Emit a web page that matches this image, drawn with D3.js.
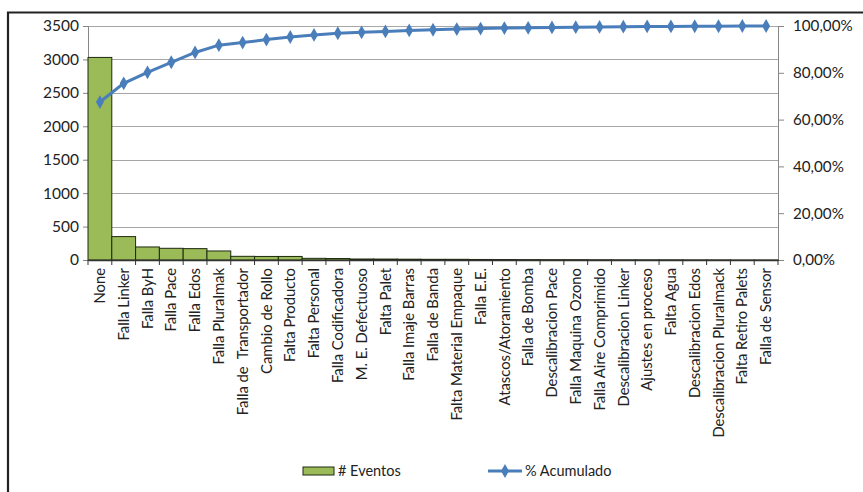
<!DOCTYPE html>
<html><head><meta charset="utf-8">
<script src="https://cdn.jsdelivr.net/npm/d3@7"></script>
<style>body{margin:0;background:#fff}svg{display:block}text{font-family:Lato,"Open Sans",sans-serif}</style>
</head><body>
<svg id="c" width="863" height="492"></svg>
<script>
const categories = ["None","Falla Linker","Falla ByH","Falla Pace","Falla Edos","Falla Pluralmak","Falla de  Transportador","Cambio de Rollo","Falta Producto","Falta Personal","Falla Codificadora","M. E. Defectuoso","Falta Palet","Falla Imaje Barras","Falla de Banda","Falta Material Empaque","Falla E.E.","Atascos/Atoramiento","Falla de Bomba","Descalibracion Pace","Falla Maquina Ozono","Falla Aire Comprimido","Descalibracion Linker","Ajustes en proceso","Falta Agua","Descalibracion Edos","Descalibracion Pluralmack","Falta Retiro Palets","Falla de Sensor"];
const eventos = [3030,350,195,175,170,135,55,53,53,25,22,15,14,12,10,10,8,7,6,5,5,4,3,3,3,2,2,1,1];
const acumulado = [0.675,0.755,0.802,0.845,0.887,0.918,0.929,0.942,0.953,0.962,0.969,0.973,0.977,0.981,0.984,0.987,0.989,0.991,0.992,0.994,0.995,0.996,0.997,0.998,0.998,0.999,0.999,1.0,1.0];
const leftTicks = [0,500,1000,1500,2000,2500,3000,3500];
const rightTicks = [0,0.2,0.4,0.6,0.8,1.0];
const seriesNames = ["# Eventos","% Acumulado"];

const svg = d3.select("#c");
const L = 88, R = 778, T = 26, B = 260;
const x = d3.scaleBand().domain(categories).range([L, R]).padding(0);
const y = d3.scaleLinear().domain([0,3500]).range([B, T]);
const y2 = d3.scaleLinear().domain([0,1]).range([B, T]);
const fmtPct = v => d3.format(".2f")(v*100).replace(".", ",") + "%";

// frame
svg.append("path").attr("d","M8,492V12.5H863").attr("fill","none").attr("stroke","#222").attr("stroke-width",2.2);

// gridlines
svg.append("g").selectAll("line").data(leftTicks.slice(1)).join("line")
  .attr("x1",L).attr("x2",R).attr("y1",d=>Math.round(y(d))+0.5).attr("y2",d=>Math.round(y(d))+0.5)
  .attr("stroke","#a6a6a6").attr("stroke-width",1);

// left axis
const gl = svg.append("g").attr("transform",`translate(${L},0)`)
  .call(d3.axisLeft(y).tickValues(leftTicks).tickSize(5).tickPadding(4).tickFormat(d3.format("d")));
gl.select(".domain").attr("stroke","#868686");
gl.selectAll(".tick line").attr("stroke","#868686");
gl.selectAll("text").attr("font-size",15.5).attr("fill","#222");

// right axis
const gr = svg.append("g").attr("transform",`translate(${R},0)`)
  .call(d3.axisRight(y2).tickValues(rightTicks).tickSize(6).tickPadding(9).tickFormat(fmtPct));
gr.select(".domain").attr("stroke","#868686");
gr.selectAll(".tick line").attr("stroke","#868686");
gr.selectAll("text").attr("font-size",15.2).attr("fill","#222");

// bars
svg.append("g").selectAll("rect").data(eventos).join("rect")
  .attr("x",(d,i)=>x(categories[i])).attr("width",x.bandwidth())
  .attr("y",d=>y(d)).attr("height",d=>B-y(d))
  .attr("fill","#9bbb59").attr("stroke","#1f2a10").attr("stroke-width",1);

// bottom axis
const gb = svg.append("g").attr("transform",`translate(0,${B})`)
  .call(d3.axisBottom(x).tickSize(0).tickPadding(0));
gb.select(".domain").attr("stroke","#333").attr("stroke-width",1.3);
gb.selectAll("text").attr("font-size",14.8).attr("fill","#222").style("white-space","pre")
  .attr("transform","rotate(-90)").attr("text-anchor","end")
  .attr("x",-8).attr("y",0).attr("dy","0.35em");
svg.append("g").selectAll("line").data(categories.map((c,i)=>i).concat([categories.length])).join("line")
  .attr("x1",i=>i<categories.length? x(categories[i]) : R).attr("x2",i=>i<categories.length? x(categories[i]) : R)
  .attr("y1",B).attr("y2",B+5).attr("stroke","#333").attr("stroke-width",1);

// line
const line = d3.line().x((d,i)=>x(categories[i])+x.bandwidth()/2).y(d=>y2(d));
svg.append("path").datum(acumulado).attr("d",line).attr("fill","none")
  .attr("stroke","#4a7ebb").attr("stroke-width",3);
const diamond = d3.symbol().type(d3.symbolDiamond).size(55);
svg.append("g").selectAll("path").data(acumulado).join("path")
  .attr("d",diamond).attr("transform",(d,i)=>`translate(${x(categories[i])+x.bandwidth()/2},${y2(d)})`)
  .attr("fill","#4a7ebb");

// legend
const lg = svg.append("g");
lg.append("rect").attr("x",303).attr("y",467).attr("width",31).attr("height",8)
  .attr("fill","#9bbb59").attr("stroke","#1f2a10").attr("stroke-width",1);
lg.append("text").attr("x",338).attr("y",476).attr("font-size",14.5).attr("fill","#222").text(seriesNames[0]);
lg.append("line").attr("x1",488).attr("x2",522).attr("y1",471).attr("y2",471).attr("stroke","#4a7ebb").attr("stroke-width",3);
lg.append("path").attr("d",diamond).attr("transform","translate(505,471)").attr("fill","#4a7ebb");
lg.append("text").attr("x",525).attr("y",476).attr("font-size",14.5).attr("fill","#222").text(seriesNames[1]);
</script>
</body></html>
